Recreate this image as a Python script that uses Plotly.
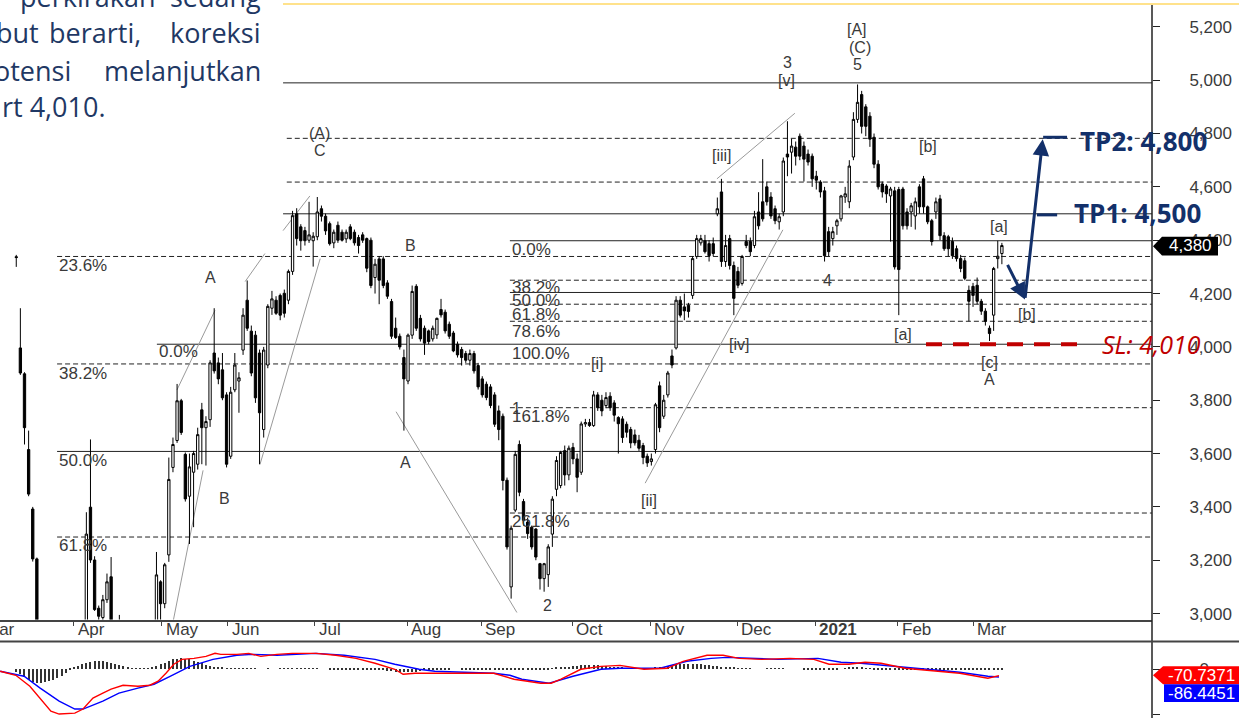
import plotly.graph_objects as go

W, H = 1239, 722

# ---------------- data ----------------
first_index = -14  # trading-day index of first candle (index 0 = 1 Apr 2020)

opens = [
    # Mar 2020
    4338, 3996, 3899, 3615, 3392, 3205, 2930, 2870, 2800, 2850, 2820, 2880, 2900, 2840,
    # Apr
    2910, 2870, 2920, 2900, 3399, 3201, 3020, 2985, 3052, 3138, 2960, 2950, 2940, 2880, 2920, 2870, 2900, 2940, 2900, 2930, 2950,
    # May
    3119, 3037, 3220, 3548, 3649, 3798, 3597, 3440, 3530, 3560, 3764, 3697, 3727, 3977, 3940, 3914,
    # Jun
    3820, 3590, 3839, 3872, 3988, 4175, 4059, 4044, 3977, 3690, 3932, 4145, 4175, 4193, 4201, 4175, 4283, 4499, 4450, 4436, 4400,
    # Jul
    4398, 4413, 4518, 4490, 4462, 4390, 4456, 4430, 4405, 4450, 4430, 4410, 4420, 4406, 4400, 4260, 4330, 4330, 4240, 4170, 4070, 4040,
    # Aug
    3960, 3872, 4044, 4227, 4107, 4070, 4060, 4030, 4045, 4140, 4130, 4085, 4052, 4010, 3990, 3975, 3950, 3975,
    # Sep
    3930, 3880, 3860, 3850, 3820, 3760, 3740, 3500, 3100, 3388, 3634, 3420, 3343, 3324, 3317, 3187, 3131, 3146, 3298, 3466, 3480, 3611,
    # Oct
    3520, 3623, 3580, 3530, 3711, 3716, 3705, 3820, 3800, 3780, 3815, 3790, 3735, 3730, 3710, 3690, 3670, 3650, 3630,
    # Nov
    3590, 3570, 3615, 3854, 3740, 3820, 3966, 3996, 4175, 4150, 4156, 4193, 4339, 4390, 4398, 4387, 4387, 4499, 4581, 4320, 4406,
    # Dec
    4305, 4283, 4238, 4395, 4395, 4380, 4506, 4544, 4600, 4562, 4518, 4469, 4506, 4723, 4730, 4749, 4790, 4753, 4723,
    # Jan 2021
    4715, 4640, 4618, 4585, 4432, 4406, 4454, 4480, 4562, 4544, 4712, 4853, 4946, 4900, 4865, 4786, 4685, 4611, 4603, 4566,
    # Feb
    4585, 4590, 4592, 4506, 4506, 4491, 4600, 4630, 4525, 4473, 4506, 4555, 4417, 4413, 4395, 4368, 4331, 4323, 4212,
    # Mar
    4227, 4231, 4171, 4134, 4070, 4119, 4331, 4350,
]
highs = [
    4345, 4145, 3905, 3686, 3400, 3210, 2960, 2940, 2870, 2950, 2900, 2960, 2950, 2930,
    2965, 2940, 2970, 3380, 3653, 3215, 3030, 3070, 3150, 3212, 2975, 2995, 2970, 2950, 2960, 2930, 2960, 2970, 2960, 2970, 3231,
    3125, 3190, 3585, 3660, 3861, 3805, 3604, 3600, 3610, 3697, 3790, 3740, 3950, 4145, 3960, 3977,
    3830, 3850, 3977, 3905, 4145, 4249, 4080, 4060, 3990, 4000, 4160, 4210, 4190, 4200, 4215, 4290, 4510, 4520, 4460, 4450, 4544,
    4430, 4562, 4530, 4500, 4470, 4440, 4470, 4440, 4440, 4460, 4440, 4420, 4430, 4410, 4410, 4330, 4340, 4340, 4250, 4180, 4110, 4050,
    3990, 4050, 4230, 4235, 4120, 4080, 4065, 4080, 4110, 4180, 4140, 4095, 4060, 4020, 4000, 3985, 3990, 3985,
    3940, 3890, 3870, 3860, 3830, 3780, 3750, 3510, 3330, 3610, 3649, 3430, 3360, 3330, 3320, 3190, 3190, 3260, 3440, 3590, 3610, 3630,
    3630, 3640, 3600, 3720, 3730, 3730, 3835, 3830, 3820, 3830, 3830, 3800, 3740, 3740, 3720, 3700, 3690, 3670, 3640,
    3600, 3600, 3790, 3870, 3820, 3910, 3990, 4190, 4190, 4200, 4165, 4340, 4420, 4420, 4420, 4400, 4410, 4560, 4630, 4420, 4420,
    4320, 4300, 4345, 4420, 4410, 4510, 4580, 4704, 4620, 4580, 4530, 4500, 4710, 4846, 4780, 4770, 4800, 4770, 4740,
    4725, 4660, 4625, 4600, 4450, 4450, 4480, 4570, 4600, 4700, 4880, 4984, 4960, 4910, 4880, 4800, 4700, 4620, 4610, 4600,
    4600, 4600, 4600, 4520, 4540, 4560, 4610, 4641, 4530, 4480, 4560, 4570, 4430, 4420, 4410, 4380, 4345, 4335, 4230,
    4240, 4260, 4180, 4145, 4080, 4300, 4398, 4390,
]
lows = [
    4300, 3895, 3634, 3440, 3195, 2900, 2850, 2780, 2700, 2790, 2750, 2820, 2800, 2780,
    2850, 2800, 2860, 2890, 3190, 3010, 2960, 2970, 3040, 2950, 2880, 2900, 2860, 2830, 2850, 2800, 2860, 2880, 2850, 2880, 2930,
    2960, 3020, 3194, 3530, 3640, 3670, 3420, 3261, 3324, 3540, 3560, 3555, 3700, 3900, 3860, 3800,
    3548, 3580, 3830, 3753, 3970, 4060, 3890, 3790, 3560, 3660, 3920, 4120, 4120, 4100, 4110, 4160, 4270, 4380, 4361, 4380, 4390,
    4301, 4400, 4470, 4420, 4380, 4370, 4390, 4395, 4390, 4400, 4380, 4350, 4390, 4280, 4220, 4200, 4160, 4220, 4180, 4030, 4030, 3990,
    3686, 3860, 4030, 4060, 4020, 3970, 4010, 4020, 4030, 4110, 4050, 4030, 3980, 3960, 3930, 3940, 3930, 3900,
    3840, 3810, 3800, 3770, 3700, 3650, 3462, 3240, 3056, 3380, 3440, 3330, 3280, 3240, 3200, 3090, 3082, 3100, 3250, 3440, 3470, 3480,
    3500, 3560, 3455, 3520, 3700, 3700, 3700, 3760, 3740, 3770, 3760, 3720, 3600, 3640, 3660, 3620, 3630, 3610, 3560,
    3550, 3555, 3600, 3680, 3730, 3810, 3920, 3990, 4110, 4100, 4110, 4180, 4330, 4380, 4350, 4320, 4340, 4490, 4300, 4300, 4290,
    4119, 4220, 4230, 4370, 4340, 4370, 4440, 4470, 4530, 4480, 4460, 4440, 4490, 4640, 4650, 4680, 4700, 4620, 4680,
    4600, 4590, 4560, 4320, 4340, 4380, 4420, 4470, 4540, 4520, 4700, 4840, 4800, 4790, 4750, 4670, 4590, 4560, 4540, 4395,
    4290, 4119, 4440, 4440, 4450, 4440, 4500, 4500, 4460, 4380, 4480, 4400, 4360, 4340, 4330, 4320, 4280, 4250, 4096,
    4150, 4160, 4120, 4080, 4022, 4060, 4294, 4310,
]
closes = [
    4335, 3902, 3697, 3448, 3205, 2930, 2870, 2800, 2850, 2820, 2880, 2900, 2840, 2910,
    2870, 2920, 2900, 3298, 3201, 3015, 2990, 3052, 3119, 2960, 2900, 2940, 2880, 2920, 2870, 2900, 2940, 2900, 2930, 2950, 3145,
    3037, 3183, 3503, 3634, 3798, 3679, 3430, 3550, 3600, 3671, 3697, 3720, 3940, 3910, 3880, 3809,
    3560, 3830, 3932, 3884, 4119, 4070, 3902, 3809, 3753, 3988, 4152, 4180, 4126, 4119, 4126, 4283, 4492, 4406, 4398, 4398, 4420,
    4415, 4506, 4490, 4435, 4387, 4430, 4400, 4400, 4430, 4406, 4390, 4380, 4400, 4295, 4230, 4310, 4250, 4230, 4190, 4040, 4035, 4000,
    3880, 4044, 4208, 4070, 4030, 4014, 4020, 4070, 4107, 4120, 4060, 4040, 3985, 3970, 3960, 3950, 3975, 3910,
    3850, 3820, 3810, 3780, 3710, 3690, 3499, 3250, 3320, 3597, 3455, 3350, 3300, 3250, 3212, 3131, 3187, 3250, 3429, 3574, 3604, 3520,
    3620, 3580, 3511, 3711, 3716, 3705, 3820, 3772, 3760, 3810, 3772, 3744, 3712, 3660, 3680, 3640, 3640, 3620, 3585,
    3565, 3580, 3783, 3697, 3800, 3902, 3932, 4175, 4119, 4135, 4133, 4331, 4406, 4406, 4357, 4342, 4350, 4518, 4320, 4380, 4305,
    4182, 4231, 4339, 4380, 4357, 4488, 4454, 4480, 4544, 4491, 4473, 4488, 4697, 4712, 4753, 4715, 4715, 4704, 4693,
    4630, 4625, 4581, 4342, 4357, 4432, 4473, 4566, 4574, 4678, 4853, 4917, 4827, 4827, 4779, 4685, 4600, 4581, 4574, 4592,
    4300, 4290, 4454, 4454, 4529, 4544, 4525, 4525, 4469, 4395, 4544, 4417, 4368, 4368, 4342, 4331, 4294, 4257, 4171,
    4193, 4171, 4134, 4096, 4050, 4294, 4340, 4380,
]

macd_hist = [
    -30, -60, -90, -120, -145, -155, -155, -150, -140, -125, -100, -75, -45, -15,
    10, 30, 50, 65, 80, 88, 90, 88, 80, 70, 55, 40, 30, 20, 8, 5, 5, 5, 8, 15,
    30, 50, 70, 90, 105, 115, 120, 115, 105, 90, 75, 60, 45, 35, 25, 15, 10,
    8, 6, 5, 5, 5, 4, 3, 3, 0, 0, 2, 0, 0, 3, 4, 5, 5, 5, 6, 5, 4, 3, 2,
    0, 0, -2, -4, -5, -6, -8, -10, -10, -12, -12, -12, -14, -15, -15, -18, -20, -25, -30,
    -35, -40, -40, -35, -30, -25, -18, -12, -8, -5, -3, -2, -2, 0, 0, -2, -2, -3,
    -5, -5, -6, -6, -8, -8, -10, -10, -12, -15, -15, -12, -12, -12, -10, -10, -10, -8, -5,
    5, 10, 15, 20, 25, 30, 35, 38, 40, 42, 40, 38, 35, 30, 25, 20, 15, 10, 5, 5, 3, 3, 2,
    2, 5, 10, 15, 20, 30, 38, 45, 50, 55, 55, 55, 52, 50, 45, 40, 35, 30, 25, 20,
    15, 10, 8, 5, 3, 2, 0, 0, 0, 2, 3, 3, 3, 2, 0, 0, 0, 0, -2, -4,
    -6, -8, -10, -10, -10, -8, -5, 0, 5, 10, 15, 15, 12, 8, 3, -2, -6,
    -10, -12, -12, -10, -8, -6, -5, -5,
    -4, -4, -3, -3, -4, -5, -6, -6, -6, -7, -8, -8, -8, -9, -9, -10, -10, -10, -8, -5, -3, -2,
]

macd_idx = [-17.9, -14.1, -10.7, -8.2, -5.6, -3.6, 0.2, 2.2, 4.6, 7.0, 9.0, 11.9, 15.5, 18.4, 20.4, 22.3,
            24.2, 26.2, 29.1, 32.0, 34.2, 35.6, 39.5, 42.4, 45.3, 49.2, 52.9, 58.7, 63.5, 68.4, 73.0,
            77.8, 79.8, 82.7, 87.5, 101.8, 106.7, 113.2, 115.7, 118.1, 122.9, 127.8, 132.4, 138.2,
            143.8, 147.7, 153.5, 157.4, 161.3, 166.8, 173.6, 179.4, 183.1, 187.9, 191.8, 195.7,
            201.5, 209.0, 214.8, 221.6, 224.3]
macd_vals = [-22, -67, -189, -322, -467, -500, -489, -444, -322, -267, -222, -178, -189, -178, -133, -44,
             56, 111, 122, 144, 178, 167, 167, 178, 144, 167, 178, 178, 156, 122, 67,
             0, -56, -44, -44, -44, -111, -156, -156, -111, 0, 33, 44, 0,
             11, 89, 156, 156, 122, 111, 122, 111, 56, 56, 78, 67,
             11, -22, -44, -100, -70.7371]
signal_idx = [-17.9, -12.1, -8.2, -3.6, 0.2, 2.2, 7.0, 10.9, 15.5, 19.4, 23.3, 28.1, 33.7, 39.5, 43.4,
              49.2, 58.7, 65.5, 73.0, 77.8, 83.7, 87.5, 101.8, 105.7, 108.6, 115.2, 121.0, 127.8,
              132.4, 142.1, 148.6, 154.5, 158.3, 163.9, 170.7, 180.4, 186.0, 190.8, 199.6, 207.1,
              214.8, 221.6, 224.3]
signal_vals = [-22, -78, -211, -356, -444, -444, -356, -267, -211, -167, -78, 33, 111, 156, 167,
               156, 178, 156, 111, 56, 0, -22, -44, -67, -111, -156, -78, 0,
               11, 11, 89, 122, 133, 122, 111, 122, 78, 67, 33, 0,
               -33, -78, -86.4451]

month_labels = ["Mar", "Apr", "May", "Jun", "Jul", "Aug", "Sep", "Oct", "Nov", "Dec", "2021", "Feb", "Mar"]
month_start_idx = [-22.6, 0, 21.3, 37.3, 58.4, 80.8, 98.7, 120.8, 139.7, 160.8, 179.7, 199.8, 218]

price_ticks = [3000, 3200, 3400, 3600, 3800, 4000, 4200, 4400, 4600, 4800, 5000, 5200]
price_tick_text = ["3,000", "3,200", "3,400", "3,600", "3,800", "4,000", "4,200", "4,400",
                   "4,600", "4,800", "5,000", "5,200"]
macd_ticks = [0, -500]
macd_tick_text = ["0", "-500"]

# horizontal Fibonacci / level lines
level_values = [4990, 4782, 4618, 4499, 4398, 4339, 4250, 4204, 4160, 4096, 4010, 3936, 3772, 3608, 3377, 3287]
level_dashed = [False, True, True, False, False, True, True, False, True, True, False, True, True, False, True, True]
level_start = [50.7, 51.6, 51.6, 50.7, 105.7, -4.1, 105.7, 105.7, 105.7, 105.7, 20.1, -4.1, 105.7, -4.1, 105.7, -4.1]

fib_text = ["23.6%", "0.0%", "38.2%", "50.0%", "61.8%",
            "0.0%", "38.2%", "50.0%", "61.8%", "78.6%", "100.0%", "161.8%", "261.8%"]
fib_text_x = [-4.1, 20.1, -4.1, -4.1, -4.1, 105.7, 105.7, 105.7, 105.7, 105.7, 105.7, 105.7, 105.7]
fib_text_y = [4305, 3981, 3902, 3574, 3254, 4365, 4223, 4175, 4122, 4059, 3977, 3738, 3347]

wave_text = ["(A)", "C", "A", "B", "B", "A", "[i]", "1", "2", "[ii]", "[iii]", "[iv]", "3", "[v]",
             "[A]", "(C)", "5", "4", "[a]", "[b]", "[a]", "[b]", "[c]", "A"]
wave_x = [59.6, 59.6, 33.2, 36.4, 81.7, 80.5, 126.8, 107.4, 114.7, 139.4, 157.1, 161.2, 172.9, 172.7,
          189.9, 190.6, 190.1, 182.8, 201.0, 207.1, 224.3, 231.1, 221.9, 222.1]
wave_y = [4801, 4738, 4260, 3432, 4380, 3567, 3936, 3768, 3030, 3425, 4719, 4010, 5066, 4999,
          5189, 5122, 5058, 4249, 4048, 4753, 4450, 4122, 3940, 3876]

# gray wave channel lines (start idx, start price, end idx, end price)
trend_x0 = [24.98, 23.8, 41.5, 50.7, 45.1, 78.1, 138.5, 155.9]
trend_y0 = [3839, 2952, 4245, 4436, 3559, 3757, 3489, 4630]
trend_x1 = [34.19, 31.3, 46.3, 57.2, 59.7, 107.4, 171.9, 174.8]
trend_y1 = [4137, 3537, 4350, 4566, 4331, 3004, 4439, 4876]

last_price = 4380
macd_last = -70.7371
signal_last = -86.4451
tp1, tp2, sl = 4500, 4800, 4010
# scenario path: small dip to [b] then rally to TP2
path_idx = [226.2, 230.6, 234.9]
path_price = [4313, 4178, 4779]

# ---------------- layout helpers ----------------
PLOT_RIGHT = 1152
x_lo, x_hi = -17.94, 261.4
y_lo, y_hi = 2977.6, 5300.7
m_lo, m_hi = -544, 311

def px(v):
    return v / W

def py(v):
    return 1 - v / H

def idx_to_paper(i):
    return px(PLOT_RIGHT) * (i - x_lo) / (x_hi - x_lo)

NAVY = "#13306a"
TXT = "#3a3a3a"
LBL_FONT = "Liberation Sans, Arial, sans-serif"

fig = go.Figure()

idx = list(range(first_index, first_index + len(closes)))
fig.add_trace(go.Candlestick(
    x=idx, open=opens, high=highs, low=lows, close=closes,
    increasing=dict(line=dict(color="#000000", width=1), fillcolor="#ffffff"),
    decreasing=dict(line=dict(color="#000000", width=1), fillcolor="#000000"),
    whiskerwidth=0, showlegend=False, hoverinfo="skip", xaxis="x", yaxis="y"))

fig.add_trace(go.Bar(
    x=list(range(first_index, first_index + len(macd_hist))), y=macd_hist, width=0.28,
    marker=dict(color="#333333", line=dict(width=0)), showlegend=False,
    hoverinfo="skip", xaxis="x2", yaxis="y2"))
fig.add_trace(go.Scatter(x=signal_idx, y=signal_vals, mode="lines",
                         line=dict(color="#0000ff", width=1.4), showlegend=False,
                         hoverinfo="skip", xaxis="x2", yaxis="y2"))
fig.add_trace(go.Scatter(x=macd_idx, y=macd_vals, mode="lines",
                         line=dict(color="#ff0000", width=1.4), showlegend=False,
                         hoverinfo="skip", xaxis="x2", yaxis="y2"))

shapes = []
for lv, dashed, st in zip(level_values, level_dashed, level_start):
    shapes.append(dict(type="line", xref="x", yref="y", x0=st, x1=x_hi, y0=lv, y1=lv,
                       line=dict(color="#222222", width=1, dash="5px,3px" if dashed else "solid"),
                       layer="below"))
for a, b, c, d in zip(trend_x0, trend_y0, trend_x1, trend_y1):
    shapes.append(dict(type="line", xref="x", yref="y", x0=a, y0=b, x1=c, y1=d,
                       line=dict(color="#9a9a9a", width=1), layer="below"))

# stop-loss dashed line
shapes.append(dict(type="line", xref="x", yref="y", x0=206.6, x1=244.4, y0=sl, y1=sl,
                   line=dict(color="#c00000", width=4, dash="16px,11px")))
# TP markers
shapes.append(dict(type="line", xref="x", yref="y", x0=235.0, x1=240.8, y0=4786, y1=4786,
                   line=dict(color=NAVY, width=3)))
shapes.append(dict(type="line", xref="x", yref="y", x0=233.5, x1=238.4, y0=4495, y1=4495,
                   line=dict(color=NAVY, width=3)))
# right axis line, full height
shapes.append(dict(type="line", xref="paper", yref="paper", x0=px(PLOT_RIGHT), x1=px(PLOT_RIGHT),
                   y0=py(5), y1=0, line=dict(color="#222222", width=1.5)))
# separator above indicator panel
shapes.append(dict(type="line", xref="paper", yref="paper", x0=0, x1=1, y0=py(645), y1=py(645),
                   line=dict(color="#444444", width=2)))
# yellow border at top
shapes.append(dict(type="line", xref="paper", yref="paper", x0=px(283), x1=1, y0=py(4), y1=py(4),
                   line=dict(color="#ffd966", width=1.5)))

def tag_path(x_tip, x0, x1, y0, y1):
    ym = (y0 + y1) / 2
    return (f"M {px(x_tip)},{py(ym)} L {px(x0)},{py(y0)} L {px(x1)},{py(y0)} "
            f"L {px(x1)},{py(y1)} L {px(x0)},{py(y1)} Z")

shapes.append(dict(type="path", xref="paper", yref="paper", path=tag_path(1153, 1162, 1218, 238, 257),
                   fillcolor="#000000", line=dict(width=0), layer="above"))
shapes.append(dict(type="path", xref="paper", yref="paper", path=tag_path(1153, 1163, 1239, 670, 688),
                   fillcolor="#ff0000", line=dict(width=0), layer="above"))
shapes.append(dict(type="rect", xref="paper", yref="paper", x0=px(1164), x1=1, y0=py(688), y1=py(706),
                   fillcolor="#0000ff", line=dict(width=0), layer="above"))

ann = []
for t, x, y in zip(fib_text, fib_text_x, fib_text_y):
    ann.append(dict(x=x, y=y, xref="x", yref="y", text=t, showarrow=False, xanchor="left",
                    yanchor="middle", font=dict(family=LBL_FONT, size=17, color=TXT)))
for t, x, y in zip(wave_text, wave_x, wave_y):
    ann.append(dict(x=x, y=y, xref="x", yref="y", text=t, showarrow=False, xanchor="center",
                    yanchor="middle", font=dict(family=LBL_FONT, size=16, color=TXT)))
for t, x in zip(month_labels, month_start_idx):
    ann.append(dict(x=idx_to_paper(x), y=py(633), xref="paper", yref="paper",
                    text=f"<b>{t}</b>" if t == "2021" else t,
                    showarrow=False, xanchor="left", yanchor="middle", xshift=2,
                    font=dict(family=LBL_FONT, size=17, color=TXT)))

# scenario arrows
for i in range(len(path_idx) - 1):
    ann.append(dict(x=path_idx[i + 1], y=path_price[i + 1], ax=path_idx[i], ay=path_price[i],
                    xref="x", yref="y", axref="x", ayref="y", text="", showarrow=True,
                    arrowhead=2, arrowsize=1.1, arrowwidth=3, arrowcolor=NAVY))

ann.append(dict(x=px(1078), y=py(142), xref="paper", yref="paper", text=f"<b>TP2: {tp2:,}</b>",
                showarrow=False, xanchor="left", yanchor="middle",
                font=dict(family="Open Sans", size=26, color=NAVY)))
ann.append(dict(x=px(1072), y=py(214), xref="paper", yref="paper", text=f"<b>TP1: {tp1:,}</b>",
                showarrow=False, xanchor="left", yanchor="middle",
                font=dict(family="Open Sans", size=26, color=NAVY)))
ann.append(dict(x=px(1100), y=py(346), xref="paper", yref="paper", text=f"<i>SL: {sl:,}</i>",
                showarrow=False, xanchor="left", yanchor="middle",
                font=dict(family="Open Sans", size=25, color="#c00000")))

ann.append(dict(x=px(1190), y=py(247), xref="paper", yref="paper", text=f"{last_price:,}",
                showarrow=False, xanchor="center", yanchor="middle",
                font=dict(family=LBL_FONT, size=17, color="#ffffff")))
ann.append(dict(x=px(1201), y=py(679), xref="paper", yref="paper", text=f"{macd_last:.4f}",
                showarrow=False, xanchor="center", yanchor="middle",
                font=dict(family=LBL_FONT, size=17, color="#ffffff")))
ann.append(dict(x=px(1201), y=py(697), xref="paper", yref="paper", text=f"{signal_last:.4f}",
                showarrow=False, xanchor="center", yanchor="middle",
                font=dict(family=LBL_FONT, size=17, color="#ffffff")))

# report text overlapping the chart (top-left, cut by the page edge)
doc_words = [("perkirakan", 158, -4, "right"), ("sedang", 263, -4, "right"),
             ("but", 41, 33, "right"), ("berarti,", 143, 33, "right"), ("koreksi", 263, 33, "right"),
             ("otensi", 73, 71, "right"), ("melanjutkan", 263, 71, "right"),
             ("rt 4,010.", 0, 107, "left")]
for word, xx, yy, anc in doc_words:
    ann.append(dict(x=px(xx), y=py(yy), xref="paper", yref="paper", text=word, showarrow=False,
                    xanchor=anc, yanchor="middle",
                    font=dict(family="Open Sans", size=27, color="#1f3864")))

fig.update_layout(
    width=W, height=H, margin=dict(l=0, r=0, t=0, b=0, pad=0),
    paper_bgcolor="#ffffff", plot_bgcolor="#ffffff", showlegend=False,
    shapes=shapes, annotations=ann, bargap=0, boxgap=0.2,
    xaxis=dict(domain=[0, px(PLOT_RIGHT)], range=[x_lo, x_hi], anchor="y",
               showgrid=False, zeroline=False, showline=True, linecolor="#444444", linewidth=1.5,
               ticks="outside", ticklen=5, tickcolor="#444444", tickvals=month_start_idx,
               showticklabels=False, rangeslider=dict(visible=False), fixedrange=True),
    yaxis=dict(domain=[py(623), 1], range=[y_lo, y_hi], anchor="x", side="right",
               showgrid=False, zeroline=False, showline=False, ticks="outside", ticklen=7,
               tickcolor="#222222", tickvals=price_ticks, ticktext=price_tick_text,
               ticklabelstandoff=26,
               tickfont=dict(family=LBL_FONT, size=17, color=TXT)),
    xaxis2=dict(domain=[0, px(PLOT_RIGHT)], range=[x_lo, x_hi], anchor="y2",
                showgrid=False, zeroline=False, showline=False, showticklabels=False),
    yaxis2=dict(domain=[0, py(645)], range=[m_lo, m_hi], anchor="x2", side="right",
                showgrid=False, zeroline=False, showline=False, ticks="outside", ticklen=7,
                tickcolor="#222222", tickvals=macd_ticks, ticktext=macd_tick_text,
                ticklabelstandoff=36,
                tickfont=dict(family=LBL_FONT, size=17, color=TXT)),
)

fig.write_html(
    "out.html",
    config={"displayModeBar": False},
    post_script="document.body.style.margin='0';document.body.style.padding='0';"
                "document.body.style.overflow='hidden';",
)
